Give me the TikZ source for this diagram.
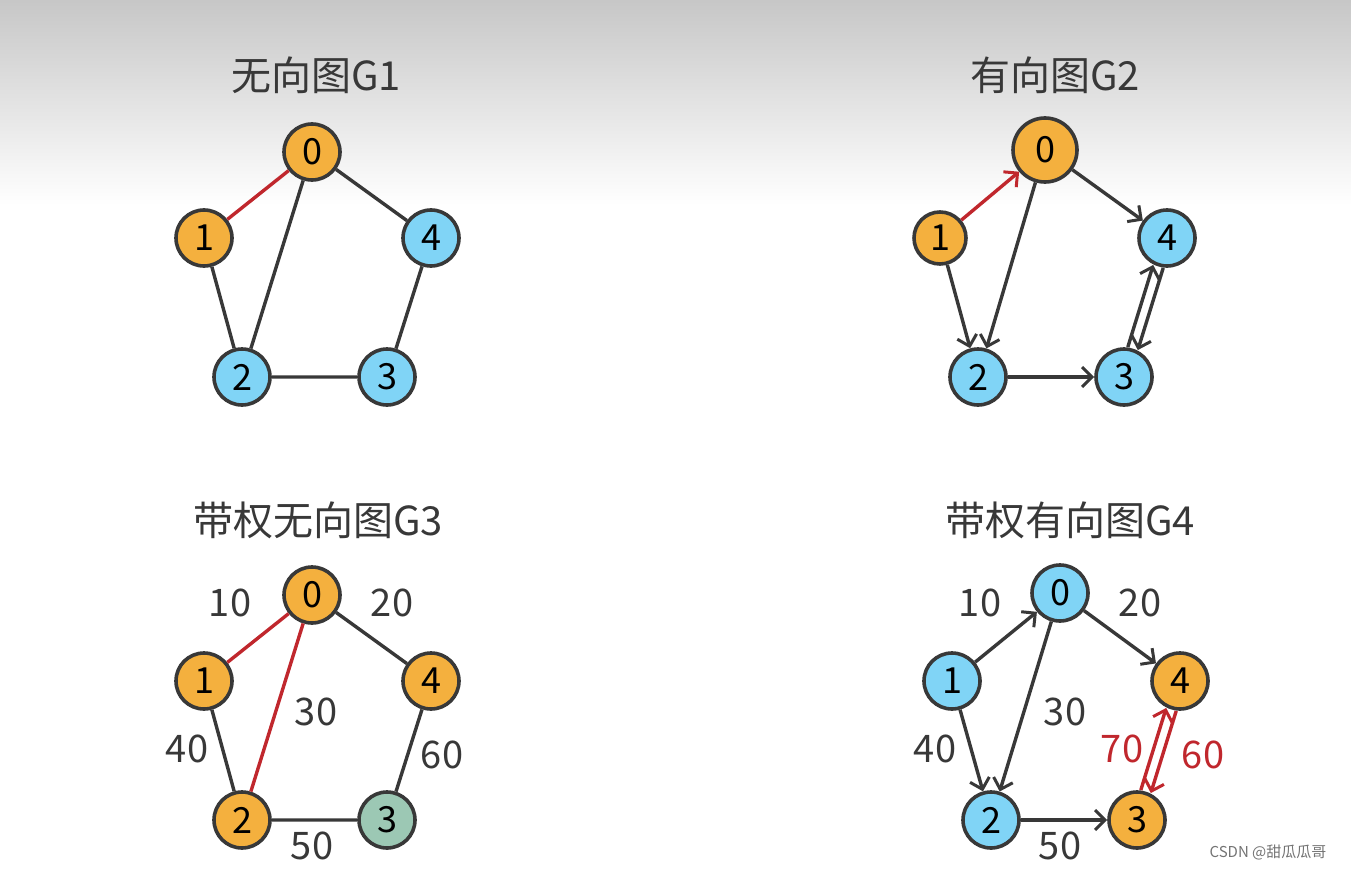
\documentclass[tikz,border=0pt]{standalone}
\usepackage{fontspec}
\setmainfont{Noto Sans CJK SC}
\usetikzlibrary{arrows.meta,backgrounds}
\definecolor{vorange}{HTML}{F4B03E}
\definecolor{vblue}{HTML}{80D4F6}
\definecolor{vgreen}{HTML}{9CC8B4}
\definecolor{ered}{HTML}{C0272D}
\definecolor{edark}{HTML}{383838}

\begin{document}
\begin{tikzpicture}[x=1pt,y=-1pt,>={Straight Barb[length=10pt,width=20pt,line width=3pt]},
  vtx/.style={circle,draw=edark,line width=3.6pt,minimum size=56pt,inner sep=0pt,font=\fontsize{36}{36}\selectfont},
  big/.style={minimum size=64pt},
  small/.style={minimum size=52pt},
  edge/.style={draw=edark,line width=3.4pt},
  hot/.style={draw=ered,line width=3.4pt},
  left/.style={transform canvas={shift={(-5,-1.5)}}},
  right/.style={transform canvas={shift={(5,1.5)}}},
  title/.style={font=\fontsize{40}{40}\selectfont,text=edark},
  wt/.style={font=\fontsize{38}{38}\selectfont,text=edark},
  ]
\useasboundingbox (0,0) rectangle (1351,872);
\begin{scope}[on background layer]
  \shade[top color=black!22,bottom color=white] (0,0) rectangle (1351,205);
\end{scope}

% G1
\node[title] (t1) at (316,75) {无向图G1};
\node[vtx,fill=vorange] (a0) at (312,152) {0};
\node[vtx,fill=vorange] (a1) at (204,238) {1};
\node[vtx,fill=vblue]   (a4) at (431,238) {4};
\node[vtx,fill=vblue]   (a2) at (242,377) {2};
\node[vtx,fill=vblue]   (a3) at (387,377) {3};
\draw[hot] (a1) -- (a0);
\draw[edge] (a0) -- (a4) (a0) -- (a2) (a1) -- (a2) (a2) -- (a3) (a3) -- (a4);

% G2
\node[title] (t2) at (1055,75) {有向图G2};
\node[vtx,big,fill=vorange] (b0) at (1045,150) {0};
\node[vtx,small,fill=vorange] (b1) at (940,238) {1};
\node[vtx,fill=vblue] (b4) at (1167,238) {4};
\node[vtx,fill=vblue] (b2) at (978,377) {2};
\node[vtx,fill=vblue] (b3) at (1124,377) {3};
\draw[hot,->] (b1) -- (b0);
\draw[edge,->] (b0) -- (b4);
\draw[edge,->] (b0) -- (b2);
\draw[edge,->] (b1) -- (b2);
\draw[edge,->] (b2) -- (b3);
\draw[edge,->,left] (b3) -- (b4);
\draw[edge,->,right] (b4) -- (b3);

% G3
\node[title] (t3) at (318,520) {带权无向图G3};
\node[vtx,fill=vorange] (c0) at (312,595) {0};
\node[vtx,fill=vorange] (c1) at (204,681) {1};
\node[vtx,fill=vorange] (c4) at (431,681) {4};
\node[vtx,fill=vorange] (c2) at (242,820) {2};
\node[vtx,fill=vgreen]  (c3) at (387,820) {3};
\draw[hot] (c1) -- (c0);
\draw[hot] (c0) -- (c2);
\draw[edge] (c0) -- (c4) (c1) -- (c2) (c2) -- (c3) (c3) -- (c4);
\node[wt] (w10) at (230,603) {10};
\node[wt] (w20) at (392,603) {20};
\node[wt] (w30) at (316,712) {30};
\node[wt] (w40) at (187,749) {40};
\node[wt] (w60) at (442,755) {60};
\node[wt] (w50) at (312,846) {50};

% G4
\node[title] (t4) at (1070,520) {带权有向图G4};
\node[vtx,fill=vblue]   (d0) at (1060,593) {0};
\node[vtx,fill=vblue]   (d1) at (952,681) {1};
\node[vtx,fill=vorange] (d4) at (1180,681) {4};
\node[vtx,fill=vblue]   (d2) at (991,820) {2};
\node[vtx,fill=vorange] (d3) at (1137,820) {3};
\draw[edge,->] (d1) -- (d0);
\draw[edge,->] (d0) -- (d4);
\draw[edge,->] (d0) -- (d2);
\draw[edge,->] (d1) -- (d2);
\draw[edge,->] (d2) -- (d3);
\draw[hot,->,left] (d3) -- (d4);
\draw[hot,->,right] (d4) -- (d3);
\node[wt] (x10) at (980,603) {10};
\node[wt] (x20) at (1140,603) {20};
\node[wt] (x30) at (1065,712) {30};
\node[wt] (x40) at (935,749) {40};
\node[wt,text=ered] (x70) at (1122,749) {70};
\node[wt,text=ered] (x60) at (1203,755) {60};
\node[wt] (x50) at (1060,846) {50};

\node[font=\fontsize{15}{15}\selectfont,text=black!55] (mark) at (1268,853) {CSDN @甜瓜瓜哥};
\end{tikzpicture}
\end{document}
